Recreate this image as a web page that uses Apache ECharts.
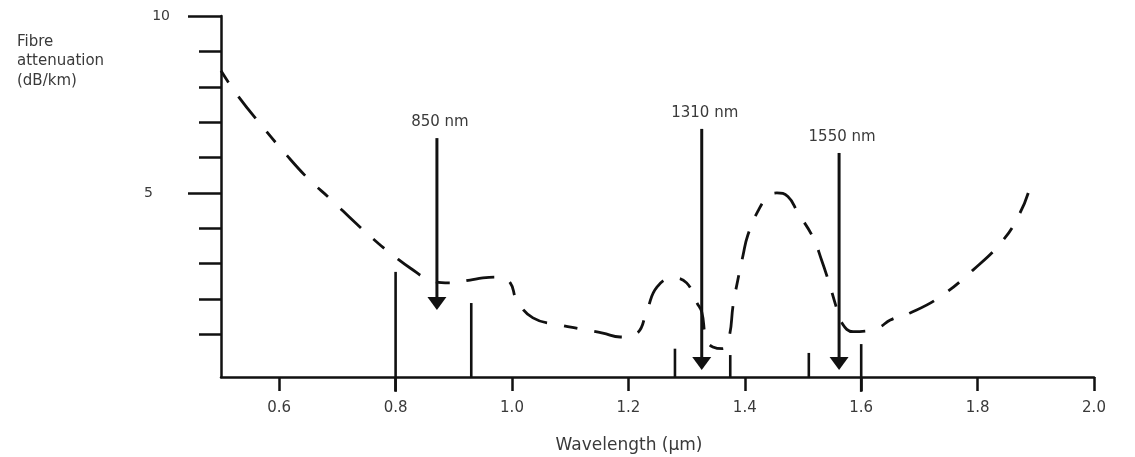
<!DOCTYPE html>
<html><head><meta charset="utf-8">
<script src="https://cdn.jsdelivr.net/npm/echarts@6/dist/echarts.min.js"></script>
<style>html,body{margin:0;padding:0;background:#fff}#c{width:1135px;height:457px}</style>
</head><body><div id="c"></div>
<script>
// ---- data ----
const xTicks = [0.6, 0.8, 1.0, 1.2, 1.4, 1.6, 1.8, 2.0];
const yMajorTicks = [5, 10];
const yMinorTicks = [1, 2, 3, 4, 6, 7, 8, 9];

const curveX = [0.5, 0.53, 0.57, 0.61, 0.65, 0.69, 0.73, 0.77, 0.8, 0.825, 0.859, 0.893, 0.928, 0.95, 0.979, 0.997, 1.008, 1.036, 1.082, 1.117, 1.156, 1.186, 1.215, 1.232, 1.249, 1.277, 1.3, 1.318, 1.326, 1.334, 1.345, 1.362, 1.373, 1.38, 1.388, 1.397, 1.405, 1.423, 1.44, 1.455, 1.474, 1.491, 1.517, 1.532, 1.545, 1.556, 1.566, 1.586, 1.61, 1.632, 1.65, 1.684, 1.735, 1.792, 1.844, 1.873, 1.887];
const curveY = [8.45, 7.72, 6.9, 6.12, 5.4, 4.8, 4.17, 3.58, 3.18, 2.88, 2.54, 2.46, 2.54, 2.6, 2.62, 2.46, 1.98, 1.47, 1.27, 1.16, 1.04, 0.93, 1.04, 1.69, 2.34, 2.6, 2.46, 1.89, 1.64, 0.85, 0.65, 0.6, 0.93, 1.84, 2.54, 3.24, 3.8, 4.5, 4.9, 5.0, 4.9, 4.45, 3.75, 3.1, 2.45, 1.84, 1.35, 1.08, 1.1, 1.21, 1.41, 1.61, 2.06, 2.82, 3.67, 4.44, 5.0];

const windowX = [0.8, 0.93, 1.28, 1.375, 1.51, 1.6];
const windowTop = [2.77, 1.89, 0.6, 0.42, 0.48, 0.73];
const windowBottom = [-0.62, -0.2, -0.2, -0.2, -0.2, -0.62];

const arrowLabels = ['850 nm', '1310 nm', '1550 nm'];
const arrowX = [0.871, 1.326, 1.562];
const arrowTop = [6.55, 6.81, 6.13];
const arrowTip = [1.69, 0.0, 0.0];

const xName = 'Wavelength (\u00b5m)';
const yName = 'Fibre\nattenuation\n(dB/km)';

// ---- chart ----
const FONT = 'DejaVu Sans';
const INK = '#111';
const TXT = '#3a3a3a';

const chart = echarts.init(document.getElementById('c'));
chart.setOption({
  animation: false,
  backgroundColor: '#fff',
  title: {
    text: yName, left: 17, top: 32, padding: 0,
    textStyle: { fontFamily: FONT, fontSize: 15, fontWeight: 'normal', color: TXT, lineHeight: 19.5 }
  },
  grid: { left: 221, top: 16, width: 873, height: 361, outerBoundsMode: 'none' },
  xAxis: {
    type: 'value', min: 0.5, max: 2.0,
    name: xName, nameLocation: 'middle', nameGap: 60,
    nameTextStyle: { fontFamily: FONT, fontSize: 17, color: TXT, padding: [0, 57, 0, 0] },
    axisLine: { show: true, onZero: false, lineStyle: { color: INK, width: 2.5 } },
    axisTick: { show: true, customValues: xTicks, length: 14, lineStyle: { color: INK, width: 2.5 } },
    axisLabel: { customValues: xTicks, margin: 24, fontFamily: FONT, fontSize: 15, color: TXT,
      formatter: v => Number(v).toFixed(1) },
    splitLine: { show: false }
  },
  yAxis: [{
    type: 'value', min: -0.2, max: 10, position: 'left',
    axisLine: { show: true, onZero: false, lineStyle: { color: INK, width: 2.5 } },
    axisTick: { show: true, customValues: yMajorTicks, length: 33, lineStyle: { color: INK, width: 2.5 } },
    axisLabel: { customValues: yMajorTicks, margin: 51, color: TXT,
      formatter: v => (v === 10 ? '{a|10}' : '{b|' + v + '}'),
      rich: { a: { fontFamily: FONT, fontSize: 14, color: TXT },
              b: { fontFamily: FONT, fontSize: 14, color: TXT, padding: [0, 17, 0, 0] } } },
    splitLine: { show: false }
  }, {
    type: 'value', min: -0.2, max: 10, position: 'left', offset: 0,
    axisLine: { show: false, onZero: false },
    axisTick: { show: true, customValues: yMinorTicks, length: 22, lineStyle: { color: INK, width: 2.5 } },
    axisLabel: { show: false },
    splitLine: { show: false }
  }],
  series: [{
    type: 'line',
    data: curveX.map((x, i) => [x, curveY[i]]),
    showSymbol: false, smooth: 0.45, silent: true,
    lineStyle: { color: INK, width: 2.8, type: [28, 17, 14, 17], dashOffset: 45 }
  }, {
    type: 'custom', silent: true, clip: false,
    data: windowX.map((x, i) => [x, windowTop[i], windowBottom[i]]),
    encode: { x: 0, y: [1, 2] },
    renderItem: (params, api) => {
      const a = api.coord([api.value(0), api.value(1)]);
      const b = api.coord([api.value(0), api.value(2)]);
      return { type: 'line', shape: { x1: a[0], y1: a[1], x2: b[0], y2: b[1] },
        style: { stroke: INK, lineWidth: 2.6 } };
    }
  }, {
    type: 'custom', silent: true, clip: false,
    data: arrowX.map((x, i) => [x, arrowTop[i], arrowTip[i]]),
    encode: { x: 0, y: [1, 2] },
    renderItem: (params, api) => {
      const t = api.coord([api.value(0), api.value(1)]);
      const p = api.coord([api.value(0), api.value(2)]);
      const hw = 9.5, hh = 13;
      return { type: 'group', children: [
        { type: 'line', shape: { x1: t[0], y1: t[1], x2: p[0], y2: p[1] - hh + 1 },
          style: { stroke: INK, lineWidth: 3 } },
        { type: 'polygon', shape: { points: [[p[0] - hw, p[1] - hh], [p[0] + hw, p[1] - hh], [p[0], p[1]]] },
          style: { fill: INK } },
        { type: 'text', x: t[0] + 3, y: t[1] - 16,
          style: { text: arrowLabels[params.dataIndex], fontFamily: FONT, fontSize: 15, fill: TXT,
            align: 'center', verticalAlign: 'middle' } }
      ] };
    }
  }]
});
</script></body></html>
